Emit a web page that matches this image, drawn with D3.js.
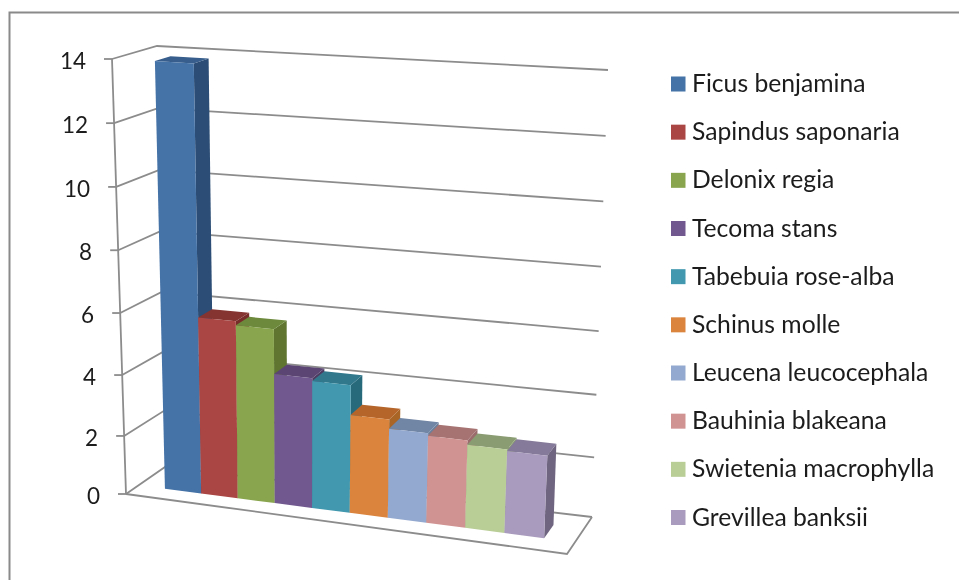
<!DOCTYPE html>
<html>
<head>
<meta charset="utf-8">
<script src="https://cdnjs.cloudflare.com/ajax/libs/d3/7.8.5/d3.min.js"></script>
<style>
html, body { margin: 0; padding: 0; background: #fff; }
svg { display: block; filter: blur(0.5px); }
text { font-family: Lato, "Open Sans", sans-serif; fill: #1c1c1c; }
</style>
</head>
<body>
<div id="chart"></div>
<script>
const species = ['Ficus benjamina', 'Sapindus saponaria', 'Delonix regia', 'Tecoma stans', 'Tabebuia rose-alba',
    'Schinus molle', 'Leucena leucocephala', 'Bauhinia blakeana', 'Swietenia macrophylla', 'Grevillea banksii'];
const counts = [13.86, 5.85, 5.72, 4.29, 4.2, 3.25, 2.95, 2.87, 2.73, 2.68];
const yTicks = [0, 2, 4, 6, 8, 10, 12, 14];
const frontColors = ['#4572a7', '#aa4643', '#89a54e', '#71588f', '#4198af', '#db843d', '#93a9cf', '#d19392', '#b9cd96', '#a99bbd'];
const sideColors = ['#2c4d75', '#772c2a', '#5f7530', '#4d3b62', '#276a7c', '#a86525', '#6c7f9b', '#9a6c6b', '#8a9c72', '#6f6580'];
const topColors = ['#375e8c', '#853431', '#6d8a3c', '#5b4572', '#31788c', '#b5652a', '#7185a4', '#a67372', '#8a9c72', '#857a99'];

const width = 959, height = 580;
const svg = d3.select('#chart').append('svg').attr('width', width).attr('height', height);

// box corners as seen in the picture: floor and top of the plot cube
const corners = {
    fl: [[126, 494], [112, 59]],
    bl: [[165, 467], [157, 46]],
    br: [[592, 517], [608, 70]],
    fr: [[567, 554], [589, 91]]
};

// slight perspective on the height axis
const heightScale = d3.scalePow().exponent(1.035).domain([0, 14]).range([0, 1]);
const mix = function(a, b, t) { return [a[0] + (b[0] - a[0]) * t, a[1] + (b[1] - a[1]) * t]; };

// u along the categories, d into the depth, v the value
const project = function(u, v, d) {
    let t = heightScale(v);
    let warped = u / (1.06 - 0.06 * u); // bars widen a little towards the viewer
    let left = mix(mix(corners.fl[0], corners.fl[1], t), mix(corners.bl[0], corners.bl[1], t), d);
    let right = mix(mix(corners.fr[0], corners.fr[1], t), mix(corners.br[0], corners.br[1], t), d);
    return mix(left, right, warped);
};

const pathOf = function(pts) { return 'M' + pts.map(function(p) { return p.join(','); }).join('L') + 'Z'; };
const lineOf = function(pts) { return 'M' + pts.map(function(p) { return p.join(','); }).join('L'); };

const xBand = d3.scaleBand().domain(species).range([0.064, 0.933]);
const depthFront = 0.32, depthBack = 0.68;
const gridColor = '#8c8c8c';

// walls and grid
let grid = svg.append('g').attr('fill', 'none').attr('stroke', gridColor).attr('stroke-width', 1.8);
yTicks.forEach(function(v) {
    grid.append('path').attr('d', lineOf([project(0, v, 0), project(0, v, 1), project(1, v, 1)]));
});
grid.append('path').attr('d', lineOf([project(0, 0, 0), project(1, 0, 0), project(1, 0, 1)]));

// left axis and ticks
grid.append('path').attr('d', lineOf([project(0, 0, 0), project(0, 14, 0)]));
yTicks.forEach(function(v) {
    let p = project(0, v, 0);
    grid.append('path').attr('d', lineOf([[p[0] - 8, p[1]], p]));
    svg.append('text')
        .attr('x', p[0] - 26)
        .attr('y', p[1] + 10)
        .attr('text-anchor', 'end')
        .attr('font-size', 22.5)
        .text(v);
});

// outer frame
svg.append('path')
    .attr('d', 'M9.5,580V12.5H959')
    .attr('fill', 'none')
    .attr('stroke', '#8a8a8a')
    .attr('stroke-width', 2);

// bars, left to right so each one covers the side of the previous one
species.forEach(function(name, i) {
    let u0 = xBand(name), u1 = u0 + xBand.bandwidth(), v = counts[i];
    let g = svg.append('g').attr('class', 'bar');
    g.append('path')
        .attr('d', pathOf([project(u1, 0, depthFront), project(u1, 0, depthBack), project(u1, v, depthBack), project(u1, v, depthFront)]))
        .attr('fill', sideColors[i]);
    g.append('path')
        .attr('d', pathOf([project(u0, v, depthFront), project(u1, v, depthFront), project(u1, v, depthBack), project(u0, v, depthBack)]))
        .attr('fill', topColors[i]);
    g.append('path')
        .attr('d', pathOf([project(u0, 0, depthFront), project(u1, 0, depthFront), project(u1, v, depthFront), project(u0, v, depthFront)]))
        .attr('fill', frontColors[i]);
});

// legend
const legendY = d3.scalePoint().domain(species).range([84, 517.5]);
let legend = svg.append('g').selectAll('g').data(species).enter().append('g')
    .attr('transform', function(d) { return 'translate(671,' + legendY(d) + ')'; });
legend.append('rect').attr('y', -7.5).attr('width', 14.5).attr('height', 15)
    .attr('fill', function(d, i) { return frontColors[i]; });
legend.append('text').attr('x', 21).attr('y', 8).attr('font-size', 24.7).text(function(d) { return d; });
</script>
</body>
</html>
